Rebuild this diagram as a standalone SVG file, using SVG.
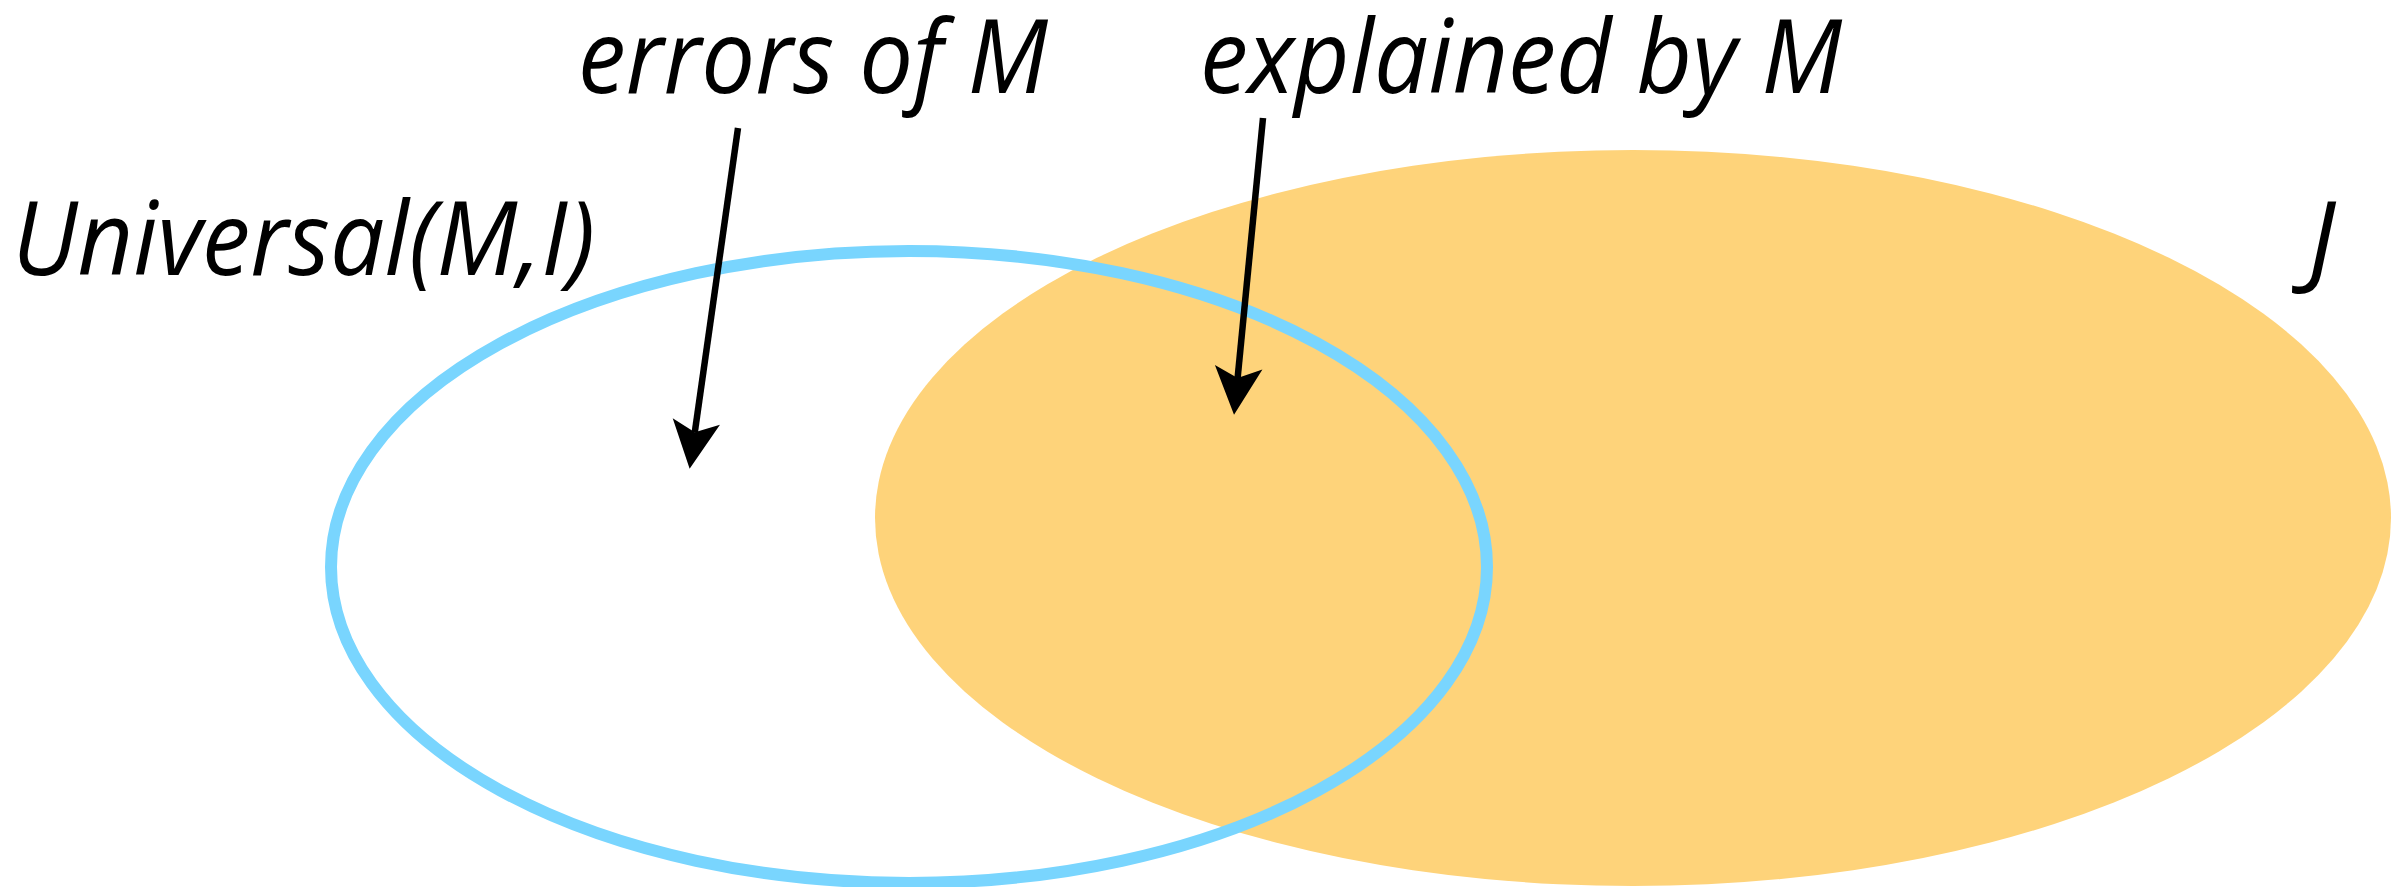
<svg xmlns="http://www.w3.org/2000/svg" width="2391" height="887" viewBox="0 0 2391 887">
<style>
.lbl{font-family:"Open Sans","Liberation Sans",sans-serif;font-style:italic;font-size:102px;fill:#000}
.conn{stroke:#000;stroke-width:6.5;fill:none}
</style>
<defs>
<marker id="ah" markerUnits="userSpaceOnUse" markerWidth="60" markerHeight="60" viewBox="-12 -20 44 40" refX="0" refY="0" orient="auto" overflow="visible">
<path d="M27,0 L-8,-17.5 L0,0 L-8,17.5 Z" fill="#000"/>
</marker>
</defs>
<rect width="2391" height="887" fill="#fff"/>
<g id="J">
<ellipse cx="1633" cy="518" rx="758" ry="368" fill="#fed37a"/>
<text class="lbl" x="2308" y="275">J</text>
</g>
<g id="universal">
<ellipse cx="909" cy="567" rx="578" ry="316" fill="none" stroke="#79d5fe" stroke-width="12"/>
<text class="lbl" x="12" y="275" textLength="583" lengthAdjust="spacingAndGlyphs">Universal(M,I)</text>
</g>
<g id="errors">
<text class="lbl" x="578" y="93" textLength="470" lengthAdjust="spacingAndGlyphs">errors of M</text>
</g>
<g id="explained">
<text class="lbl" x="1200" y="93" textLength="642" lengthAdjust="spacingAndGlyphs">explained by M</text>
</g>
<g id="connectors">
<path class="conn" d="M738,128 L694.8,432.3" marker-end="url(#ah)"/>
<path class="conn" d="M1263,118 L1237.6,378.1" marker-end="url(#ah)"/>
</g>
</svg>
